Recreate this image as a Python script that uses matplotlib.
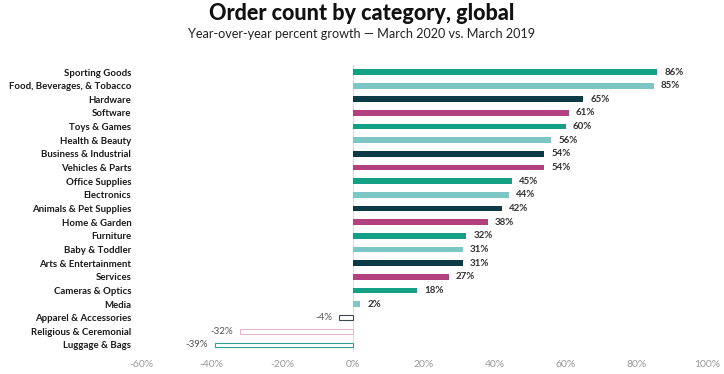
import matplotlib
matplotlib.use("Agg")
import matplotlib.pyplot as plt

categories = ["Sporting Goods", "Food, Beverages, & Tobacco", "Hardware", "Software",
              "Toys & Games", "Health & Beauty", "Business & Industrial", "Vehicles & Parts",
              "Office Supplies", "Electronics", "Animals & Pet Supplies", "Home & Garden",
              "Furniture", "Baby & Toddler", "Arts & Entertainment", "Services",
              "Cameras & Optics", "Media", "Apparel & Accessories", "Religious & Ceremonial",
              "Luggage & Bags"]
values = [86, 85, 65, 61, 60, 56, 54, 54, 45, 44, 42, 38, 32, 31, 31, 27, 18, 2, -4, -32, -39]
xticks = [-60, -40, -20, 0, 20, 40, 60, 80, 100]

palette = ["#13a085", "#7cc6c6", "#0d3a47", "#b3407f"]
neg_edges = {"Apparel & Accessories": "#3a4a52",
             "Religious & Ceremonial": "#e2b6cf",
             "Luggage & Bags": "#2e9f95"}

plt.rcParams['font.family'] = ['Lato', 'DejaVu Sans']

fig = plt.figure(figsize=(7.24, 3.74), dpi=100)
ax = fig.add_axes([141/724, 1-351.8/374, (707-141)/724, (351.8-65.2)/374])

ypos = list(range(len(categories)))
for i, (c, v) in enumerate(zip(categories, values)):
    col = palette[i % 4]
    if v >= 0:
        ax.barh(i, v, height=0.42, color=col, edgecolor='none', zorder=2)
        ax.annotate(f"{v}%", (v, i), xytext=(5, 0), textcoords='offset points',
                    ha='left', va='center', fontsize=7, fontweight='bold', color='#333333')
    else:
        ax.barh(i, v, height=0.36, color='white', edgecolor=neg_edges[c], linewidth=0.8, zorder=2)
        ax.annotate(f"{v}%", (v, i), xytext=(-5, 0), textcoords='offset points',
                    ha='right', va='center', fontsize=7, color='#555555')

ax.set_xlim(-60, 100)
ax.set_ylim(len(categories) - 0.5, -0.5)
ax.axvline(0, color='#dddddd', linewidth=0.8, zorder=1)
ax.set_xticks(xticks)
ax.set_xticklabels([f"{t}%" for t in xticks], fontsize=7.5, color='#999999')
ax.set_yticks(ypos)
ax.set_yticklabels(categories, fontsize=6.9, fontweight='bold', color='#1a1a1a')
ax.tick_params(axis='both', length=0)
ax.tick_params(axis='y', pad=7)
ax.tick_params(axis='x', pad=6)
for s in ax.spines.values():
    s.set_visible(False)

fig.text(0.5, 1-14/374, "Order count by category, global", ha='center', va='center',
         fontsize=15.5, fontweight='black', color='#111111')
fig.text(0.5, 1-34/374, "Year-over-year percent growth — March 2020 vs. March 2019",
         ha='center', va='center', fontsize=9.1, color='#222222')

fig.savefig("out.png", dpi=100)
